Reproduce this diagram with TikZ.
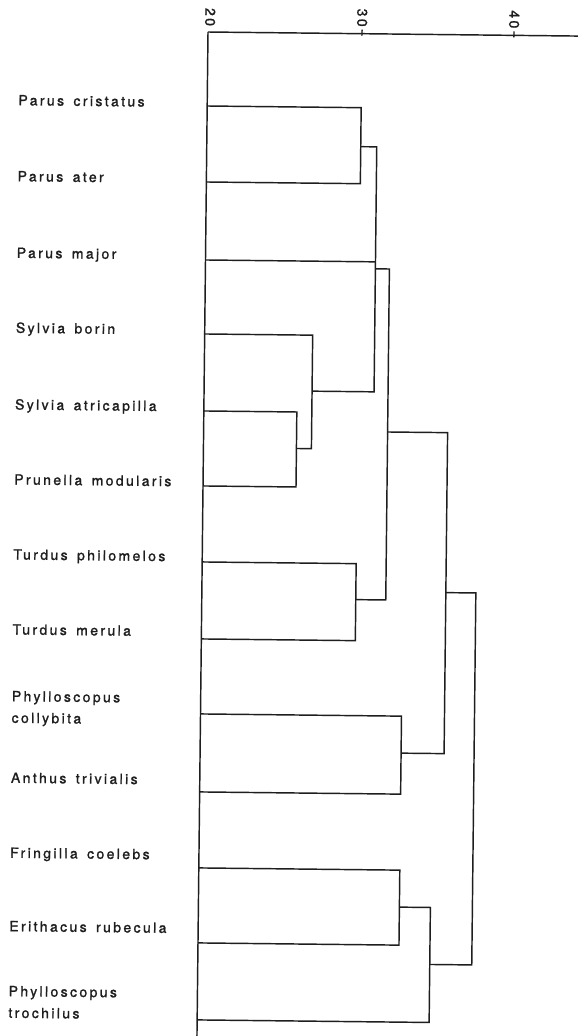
\documentclass[tikz,border=0pt]{standalone}
\usepackage{fontspec}
\setmainfont{TeX Gyre Heros}[LetterSpace=17,WordSpace=1.5,FakeBold=1.3]
\definecolor{ink}{RGB}{30,30,30}
\begin{document}
\begin{tikzpicture}[x=1pt,y=-1pt,
  link/.style={draw=ink,line width=1.45pt,line join=miter},
  leaf/.style={anchor=base west,inner sep=0pt,text=ink,font=\fontsize{14}{21.6}\selectfont},
  ticklabel/.style={rotate=-90,inner sep=0pt,text=ink,font=\fontsize{14}{16}\selectfont}]
\useasboundingbox (0,0) rectangle (578,1036);
\fill[white] (0,0) rectangle (578,1036);
\clip (0,0) rectangle (578,1036);
\begin{scope}[transform canvas={rotate around={-0.63:(208,32)}}]
% axis
\coordinate (O) at (208,32);
\coordinate (B0) at (208,1060);
\coordinate (AxEnd) at (600,32);
\coordinate (t30a) at (362,28);
\coordinate (t30b) at (362,34);
\coordinate (t40a) at (514,28);
\coordinate (t40b) at (514,34);
\node[ticklabel] (a20) at (210,17) {20};
\node[ticklabel] (a30) at (362,16) {30};
\node[ticklabel] (a40) at (514,16) {40};
\draw[link] (O) -- (B0);
\draw[link] (O) -- (AxEnd);
\draw[link] (t30a) -- (t30b);
\draw[link] (t40a) -- (t40b);
% leaves
\coordinate (l1) at (208,106);
\coordinate (l2) at (208,182);
\coordinate (l3) at (208,260);
\coordinate (l4) at (208,334);
\coordinate (l5) at (208,411);
\coordinate (l6) at (208,486);
\coordinate (l7) at (208,562);
\coordinate (l8) at (208,639);
\coordinate (l9) at (208,714);
\coordinate (l10) at (208,792);
\coordinate (l11) at (208,868);
\coordinate (l12) at (208,943);
\coordinate (l13) at (208,1020);
% merges
\coordinate (A) at (362,145);
\coordinate (B) at (301,447.5);
\coordinate (C) at (316,390);
\coordinate (D) at (378,267);
\coordinate (E) at (362,598);
\coordinate (F) at (392,430);
\coordinate (G) at (409,751);
\coordinate (H) at (452,590);
\coordinate (I) at (409,905);
\coordinate (J) at (440,962);
\coordinate (K) at (482,776);
\draw[link] (l1) -| (A) |- (l2);
\draw[link] (l5) -| (B) |- (l6);
\draw[link] (l4) -| (C) |- (B);
\draw[link] (A) -| (D) |- (C);
\draw[link] (l3) -- (l3 -| D);
\draw[link] (l7) -| (E) |- (l8);
\draw[link] (D) -| (F) |- (E);
\draw[link] (l9) -| (G) |- (l10);
\draw[link] (F) -| (H) |- (G);
\draw[link] (l11) -| (I) |- (l12);
\draw[link] (I) -| (J) |- (l13);
\draw[link] (H) -| (K) |- (J);
% labels
\node[leaf] (n1) at (19,107.3) {Parus cristatus};
\node[leaf] (n2) at (19,183.3) {Parus ater};
\node[leaf] (n3) at (19,259.9) {Parus major};
\node[leaf] (n4) at (19,334.9) {Sylvia borin};
\node[leaf] (n5) at (19,411.6) {Sylvia atricapilla};
\node[leaf] (n6) at (19,486.6) {Prunella modularis};
\node[leaf] (n7) at (19,561.6) {Turdus philomelos};
\node[leaf] (n8) at (19,636.6) {Turdus merula};
\node[leaf] (n9) at (19,724.9) {\begin{tabular}[b]{@{}l@{}}Phylloscopus\\collybita\end{tabular}};
\node[leaf] (n10) at (19,784.9) {Anthus trivialis};
\node[leaf] (n11) at (19,859.9) {Fringilla coelebs};
\node[leaf] (n12) at (19,933.3) {Erithacus rubecula};
\node[leaf] (n13) at (19,1019.9) {\begin{tabular}[b]{@{}l@{}}Phylloscopus\\trochilus\end{tabular}};
\end{scope}
\end{tikzpicture}
\end{document}
